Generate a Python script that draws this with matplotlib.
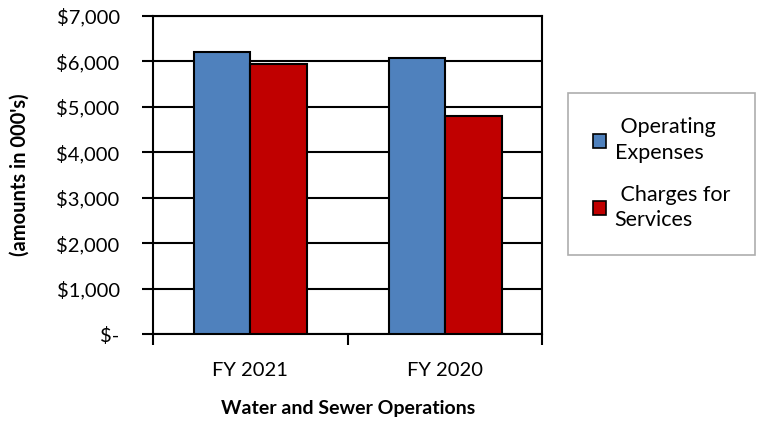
import matplotlib.pyplot as plt
from matplotlib.ticker import FuncFormatter, MultipleLocator
import numpy as np

plt.rcParams['font.family'] = ['Lato', 'DejaVu Sans']

categories = ['FY 2021', 'FY 2020']
operating_expenses = [6205, 6075]
charges_for_services = [5945, 4790]
series_labels = [' Operating\nExpenses', ' Charges for\nServices']

fig = plt.figure(figsize=(7.63, 4.23), dpi=100)
ax = fig.add_axes([0.2005, 0.2104, 0.5104, 0.7518])

x = np.arange(len(categories))
w = 0.29
ax.bar(x - w / 2, operating_expenses, w, color='#4f81bd', edgecolor='black',
       linewidth=1.5, label=series_labels[0], zorder=3)
ax.bar(x + w / 2, charges_for_services, w, color='#c00000', edgecolor='black',
       linewidth=1.5, label=series_labels[1], zorder=3)

ax.set_ylim(0, 7000)
ax.set_xlim(-0.5, 1.5)
ax.yaxis.set_major_locator(MultipleLocator(1000))
ax.yaxis.set_major_formatter(FuncFormatter(lambda v, p: '$-' if v == 0 else '${:,.0f}'.format(v)))
ax.grid(axis='y', color='black', linewidth=1.5, zorder=0)

ax.set_xticks(x)
ax.set_xticklabels(categories)
ax.set_xticks([-0.5, 0.5, 1.5], minor=True)
ax.tick_params(axis='x', which='major', length=0, pad=20, labelsize=14.5)
ax.tick_params(axis='x', which='minor', length=8, width=1.5, direction='out')
ax.tick_params(axis='y', length=8, width=1.5, direction='out', pad=16, labelsize=14.5)

for s in ax.spines.values():
    s.set_linewidth(1.5)

ax.set_ylabel("(amounts in 000's)", fontsize=14.5, fontweight='bold', labelpad=19)
ax.set_xlabel('Water and Sewer Operations', fontsize=14, fontweight='bold', labelpad=15)

leg = fig.legend(loc='center', bbox_to_anchor=(0.867, 0.589), fontsize=15.5,
                 frameon=True, fancybox=False, edgecolor='#999999',
                 handlelength=0.6, handleheight=0.6, handletextpad=0.4,
                 labelspacing=1.0, borderpad=1.15)
leg.get_frame().set_linewidth(1.2)
for t in leg.get_texts():
    t.set_linespacing(1.35)
for h in leg.legend_handles:
    h.set_linewidth(1.2)

fig.savefig('out.png', dpi=100)
